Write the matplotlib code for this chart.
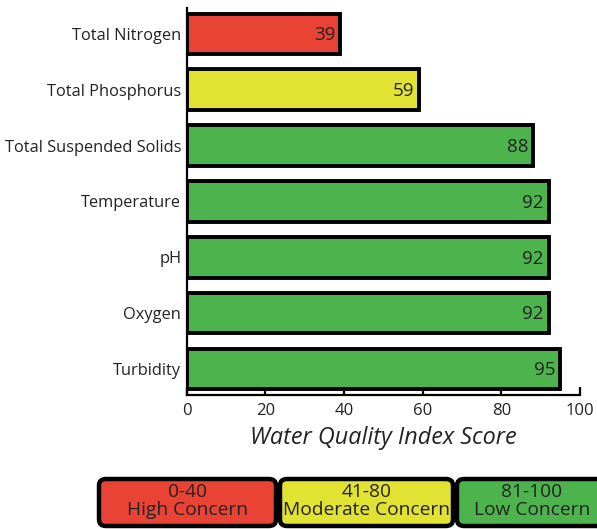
import matplotlib
matplotlib.use("Agg")
import matplotlib.pyplot as plt
from matplotlib.patches import FancyBboxPatch

parameters = ["Total Nitrogen", "Total Phosphorus", "Total Suspended Solids",
              "Temperature", "pH", "Oxygen", "Turbidity"]
scores = [39, 59, 88, 92, 92, 92, 95]
bar_colors = ["#E94335", "#E1E232", "#4DB34D", "#4DB34D", "#4DB34D", "#4DB34D", "#4DB34D"]
xticks = [0, 20, 40, 60, 80, 100]
legend_labels = ["0-40\nHigh Concern", "41-80\nModerate Concern", "81-100\nLow Concern"]
legend_colors = ["#E94335", "#E1E232", "#4DB34D"]

plt.rcParams['font.family'] = ['Open Sans', 'DejaVu Sans']

fig = plt.figure(figsize=(5.97, 5.29), dpi=100)
ax = fig.add_axes([0.313, 0.2533, 0.6585, 0.7317])

ypos = list(range(len(parameters)))
ax.barh(ypos, scores, height=0.72, color=bar_colors, edgecolor="black", linewidth=2.8)
for y, v in zip(ypos, scores):
    ax.text(v - 1.2, y + 0.02, str(v), ha="right", va="center", fontsize=13.5, color="#222222")

ax.set_ylim(len(parameters) - 0.54, -0.46)
ax.set_xlim(0, 100)
ax.set_yticks(ypos)
ax.set_yticklabels(parameters, fontsize=11.8, color="#222222")
ax.tick_params(axis="y", length=0, pad=4)
ax.set_xticks(xticks)
ax.set_xticklabels([str(t) for t in xticks], fontsize=12, color="#222222")
ax.tick_params(axis="x", direction="in", length=6, width=1.6, pad=6)
for s in ["top", "right"]:
    ax.spines[s].set_visible(False)
ax.spines["left"].set_linewidth(1.6)
ax.spines["bottom"].set_linewidth(1.6)
ax.set_xlabel("Water Quality Index Score", fontsize=16.8, style="italic", color="#222222", labelpad=5)

# legend boxes (figure coordinates, pixels)
W, H = 597, 529
boxes = [(99, 177), (280, 173), (457, 150)]
for (x0, w), lab, c in zip(boxes, legend_labels, legend_colors):
    p = FancyBboxPatch((x0 / W, (H - 526) / H), w / W, 47 / H,
                       boxstyle="round,pad=0,rounding_size=0.012",
                       transform=fig.transFigure, facecolor=c, edgecolor="black",
                       linewidth=3.2, clip_on=False)
    fig.add_artist(p)
    fig.text((x0 + w / 2) / W, (H - 501) / H, lab, ha="center", va="center",
             fontsize=13.8, linespacing=1.0, color="#222222")

fig.savefig("out.png", dpi=100)
